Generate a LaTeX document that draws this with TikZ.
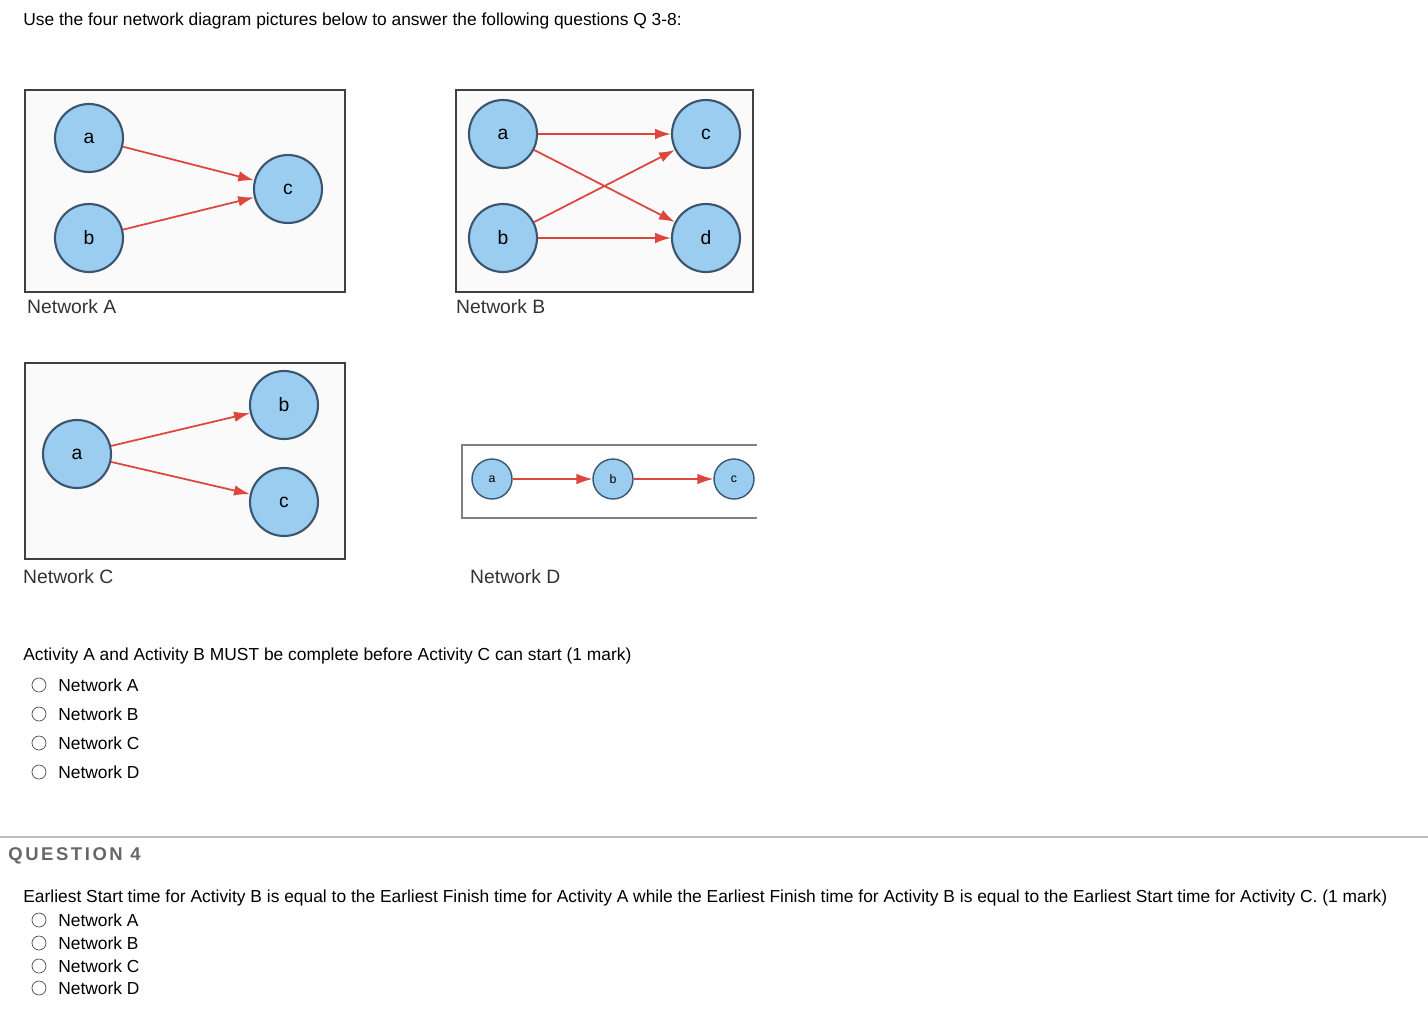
\documentclass[tikz,border=0pt]{standalone}
\usepackage{fontspec}
\setmainfont{Liberation Sans}
\usetikzlibrary{arrows.meta}
\definecolor{nodeblue}{RGB}{155,205,240}
\definecolor{nodeedge}{RGB}{60,85,110}
\definecolor{arrowred}{RGB}{220,70,60}
\begin{document}
\begin{tikzpicture}[x=0.02cm, y=-0.02cm]
\tikzset{act/.style={circle, fill=nodeblue, draw=nodeedge, line width=1.2pt, minimum size=68*0.02cm, inner sep=0pt, font=\fontsize{11}{11}\selectfont},
  small/.style={act, minimum size=40*0.02cm, line width=0.8pt, font=\fontsize{7}{7}\selectfont},
  dep/.style={draw=arrowred, line width=1pt, -{Latex[length=9pt,width=6pt]}},
  box/.style={draw=black!75, fill=black!2, line width=0.6pt},
  netlabel/.style={anchor=west, font=\fontsize{11}{11}\selectfont, text=black!80},
  txt/.style={anchor=west, font=\fontsize{9.9}{9.9}\selectfont, inner sep=0pt},
  radio/.style={circle, draw=black!70, minimum size=14*0.02cm, inner sep=0pt}}
\useasboundingbox (0,0) rectangle (1428,1015);
\node[txt] (intro) at (23,21) {Use the four network diagram pictures below to answer the following questions Q 3-8:};
% Network A
\draw[box] (25,90) rectangle (345,292);
\node[act] (Aa) at (89,138) {a};
\node[act] (Ab) at (89,238) {b};
\node[act] (Ac) at (288,189) {c};
\draw[dep] (Aa) -- (Ac);
\draw[dep] (Ab) -- (Ac);
\node[netlabel] (capA) at (21,307) {Network A};
% Network B
\draw[box] (456,90) rectangle (753,292);
\node[act] (Ba) at (503,134) {a};
\node[act] (Bb) at (503,238) {b};
\node[act] (Bc) at (706,134) {c};
\node[act] (Bd) at (706,238) {d};
\draw[dep] (Ba) -- (Bc);
\draw[dep] (Ba) -- (Bd);
\draw[dep] (Bb) -- (Bd);
\draw[dep] (Bb) -- (Bc);
\node[netlabel] (capB) at (450,307) {Network B};
% Network C
\draw[box] (25,363) rectangle (345,559);
\node[act] (Ca) at (77,454) {a};
\node[act] (Cb) at (284,405) {b};
\node[act] (Cc) at (284,502) {c};
\draw[dep] (Ca) -- (Cb);
\draw[dep] (Ca) -- (Cc);
\node[netlabel] (capC) at (17,577) {Network C};
% Network D
\draw[black!50, line width=0.6pt] (757,445) -- (462,445) -- (462,518) -- (757,518);
\node[small] (Da) at (492,479) {a};
\node[small] (Db) at (613,479) {b};
\node[small] (Dc) at (734,479) {c};
\draw[dep, line width=0.7pt] (Da) -- (Db);
\draw[dep, line width=0.7pt] (Db) -- (Dc);
\node[netlabel] (capD) at (464,577) {Network D};
% question 3
\node[txt] (q3) at (23,656) {Activity A and Activity B MUST be complete before Activity C can start (1 mark)};
\foreach \y/\n in {685/A, 714/B, 743/C, 772/D} {
  \node[radio] (r3\n) at (39,\y) {};
  \node[txt] (o3\n) at (58,\y) {Network \n};
}
% question 4
\draw[black!25, line width=0.6pt] (0,837) -- (1428,837);
\node[txt, text=black!60, font=\fontsize{10.5}{10.5}\selectfont\bfseries, anchor=west] (q4head) at (8,856) {\addfontfeature{LetterSpace=14}QUESTION 4};
\node[txt] (q4) at (23,898) {Earliest Start time for Activity B is equal to the Earliest Finish time for Activity A while the Earliest Finish time for Activity B is equal to the Earliest Start time for Activity C. (1 mark)};
\foreach \y/\n in {920/A, 943/B, 966/C, 988/D} {
  \node[radio] (r4\n) at (39,\y) {};
  \node[txt] (o4\n) at (58,\y) {Network \n};
}
\end{tikzpicture}
\end{document}
